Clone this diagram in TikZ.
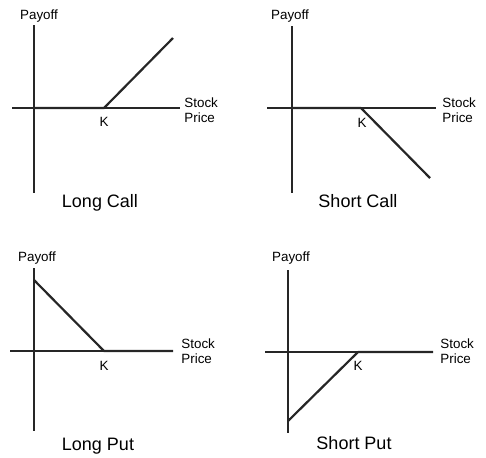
\documentclass[tikz,border=0pt]{standalone}
\usepackage{fontspec}
\setmainfont{Liberation Sans}
\usepackage{tikz}

\begin{document}
\begin{tikzpicture}[x=0.5pt,y=-0.5pt,
        axis/.style={line width=0.6pt, black!85},
        payoff/.style={line width=1.1pt, black!85, line join=round},
        small/.style={font=\fontsize{6.7}{7.8}\selectfont, inner sep=0pt},
        title/.style={font=\fontsize{9}{11}\selectfont, inner sep=0pt, anchor=base}]
        \useasboundingbox (0,0) rectangle (486,457);

        % Long Call
        \coordinate (lcTop) at (34,25);
        \coordinate (lcBot) at (34,193);
        \coordinate (lcLeft) at (12,108);
        \coordinate (lcRight) at (180,108);
        \coordinate (lcO) at (34,108);
        \coordinate (lcK) at (104,108);
        \coordinate (lcEnd) at (173,38);
        \draw[axis] (lcTop) -- (lcBot);
        \draw[axis] (lcLeft) -- (lcRight);
        \draw[payoff] (lcO) -- (lcK) -- (lcEnd);
        \node[small, anchor=base] (lcPayoff) at (39,19) {Payoff};
        \node[small, anchor=west, align=left] (lcStock) at (184,110) {Stock\\Price};
        \node[small] (lcKlabel) at (104,122) {K};
        \node[title] (lcTitle) at (100,207) {Long Call};

        % Short Call
        \coordinate (scTop) at (292,26);
        \coordinate (scBot) at (292,193);
        \coordinate (scLeft) at (267,108);
        \coordinate (scRight) at (436,108);
        \coordinate (scO) at (292,108);
        \coordinate (scK) at (361,108);
        \coordinate (scEnd) at (430,178);
        \draw[axis] (scTop) -- (scBot);
        \draw[axis] (scLeft) -- (scRight);
        \draw[payoff] (scO) -- (scK) -- (scEnd);
        \node[small, anchor=base] (scPayoff) at (290,19) {Payoff};
        \node[small, anchor=west, align=left] (scStock) at (442,110) {Stock\\Price};
        \node[small] (scKlabel) at (362,123) {K};
        \node[title] (scTitle) at (358,207) {Short Call};

        % Long Put
        \coordinate (lpTop) at (34,268);
        \coordinate (lpBot) at (34,431);
        \coordinate (lpLeft) at (10,351);
        \coordinate (lpRight) at (173,351);
        \coordinate (lpStart) at (34,280);
        \coordinate (lpK) at (104,351);
        \draw[axis] (lpTop) -- (lpBot);
        \draw[axis] (lpLeft) -- (lpRight);
        \draw[payoff] (lpStart) -- (lpK) -- (lpRight);
        \node[small, anchor=base] (lpPayoff) at (37,261) {Payoff};
        \node[small, anchor=west, align=left] (lpStock) at (181,351) {Stock\\Price};
        \node[small] (lpKlabel) at (104,366) {K};
        \node[title] (lpTitle) at (98,450) {Long Put};

        % Short Put
        \coordinate (spTop) at (288,270);
        \coordinate (spBot) at (288,433);
        \coordinate (spLeft) at (265,352);
        \coordinate (spRight) at (433,352);
        \coordinate (spStart) at (288,421);
        \coordinate (spK) at (358,352);
        \draw[axis] (spTop) -- (spBot);
        \draw[axis] (spLeft) -- (spRight);
        \draw[payoff] (spStart) -- (spK) -- (spRight);
        \node[small, anchor=base] (spPayoff) at (291,261) {Payoff};
        \node[small, anchor=west, align=left] (spStock) at (440,351) {Stock\\Price};
        \node[small] (spKlabel) at (358,366) {K};
        \node[title] (spTitle) at (354,449) {Short Put};
    \end{tikzpicture}
\end{document}
